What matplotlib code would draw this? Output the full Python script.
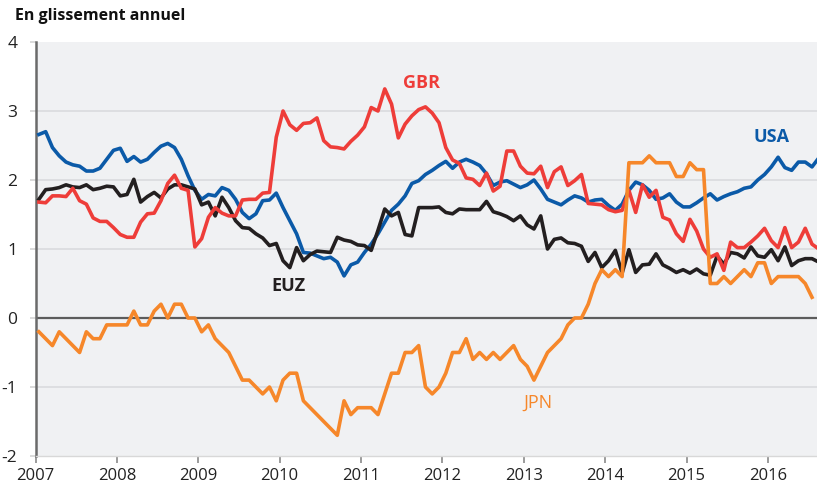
import matplotlib
matplotlib.use("Agg")
import matplotlib.pyplot as plt
import numpy as np

# Glissement annuel, mensuel de janv. 2007 à mi-2016
usa = [2.66, 2.70, 2.47, 2.35, 2.26, 2.22, 2.20, 2.13, 2.13, 2.17,
       2.30, 2.43, 2.46, 2.27, 2.34, 2.26, 2.30, 2.40, 2.49, 2.53,
       2.47, 2.30, 2.06, 1.85, 1.72, 1.79, 1.77, 1.89, 1.85, 1.72,
       1.53, 1.44, 1.51, 1.70, 1.71, 1.81, 1.60, 1.41, 1.22, 0.95,
       0.94, 0.90, 0.86, 0.88, 0.81, 0.61, 0.77, 0.81, 0.95, 1.07,
       1.22, 1.39, 1.56, 1.65, 1.77, 1.95, 1.99, 2.08, 2.14, 2.21,
       2.27, 2.17, 2.26, 2.30, 2.26, 2.21, 2.09, 1.92, 1.97, 1.99,
       1.94, 1.89, 1.93, 2.00, 1.87, 1.72, 1.68, 1.64, 1.71, 1.77,
       1.74, 1.68, 1.71, 1.72, 1.63, 1.56, 1.65, 1.85, 1.97, 1.93,
       1.85, 1.72, 1.74, 1.80, 1.68, 1.61, 1.61, 1.67, 1.74, 1.80,
       1.71, 1.76, 1.80, 1.83, 1.88, 1.90, 2.00, 2.08, 2.19, 2.33,
       2.18, 2.14, 2.26, 2.26, 2.19, 2.32]

euz = [1.72, 1.86, 1.87, 1.89, 1.93, 1.90, 1.89, 1.93, 1.86, 1.88,
       1.91, 1.90, 1.77, 1.79, 2.01, 1.68, 1.76, 1.82, 1.74, 1.87,
       1.93, 1.93, 1.90, 1.87, 1.64, 1.68, 1.48, 1.75, 1.60, 1.41,
       1.31, 1.30, 1.22, 1.16, 1.05, 1.08, 0.83, 0.73, 1.02, 0.83,
       0.92, 0.97, 0.96, 0.95, 1.17, 1.13, 1.11, 1.06, 1.05, 0.98,
       1.27, 1.58, 1.48, 1.53, 1.21, 1.19, 1.60, 1.60, 1.60, 1.61,
       1.53, 1.51, 1.58, 1.57, 1.57, 1.57, 1.69, 1.54, 1.51, 1.47,
       1.41, 1.48, 1.35, 1.29, 1.48, 1.00, 1.14, 1.16, 1.09, 1.08,
       1.04, 0.82, 0.95, 0.73, 0.83, 0.98, 0.65, 0.99, 0.66, 0.77,
       0.78, 0.93, 0.77, 0.72, 0.66, 0.70, 0.65, 0.71, 0.64, 0.62,
       0.90, 0.78, 0.95, 0.93, 0.87, 1.03, 0.90, 0.88, 0.99, 0.83,
       1.03, 0.76, 0.83, 0.86, 0.86, 0.81]

gbr = [1.68, 1.67, 1.77, 1.77, 1.76, 1.88, 1.70, 1.65, 1.45, 1.40,
       1.40, 1.31, 1.21, 1.17, 1.17, 1.39, 1.51, 1.52, 1.70, 1.95,
       2.07, 1.88, 1.85, 1.03, 1.15, 1.46, 1.60, 1.52, 1.48, 1.48,
       1.71, 1.72, 1.72, 1.81, 1.82, 2.62, 3.00, 2.80, 2.72, 2.82,
       2.83, 2.90, 2.57, 2.48, 2.47, 2.45, 2.56, 2.65, 2.77, 3.05,
       3.00, 3.32, 3.10, 2.61, 2.81, 2.93, 3.02, 3.06, 2.97, 2.83,
       2.47, 2.29, 2.24, 2.03, 2.01, 1.92, 2.10, 1.84, 1.91, 2.42,
       2.42, 2.20, 2.10, 2.09, 2.20, 1.89, 2.12, 2.19, 1.92, 1.99,
       2.08, 1.66, 1.65, 1.64, 1.57, 1.54, 1.56, 1.85, 1.53, 1.93,
       1.75, 1.85, 1.46, 1.42, 1.22, 1.11, 1.43, 1.26, 1.00, 0.88,
       0.93, 0.69, 1.10, 1.02, 1.02, 1.10, 1.19, 1.30, 1.12, 1.02,
       1.31, 1.02, 1.10, 1.30, 1.07, 1.00]

jpn = [-0.2, -0.3, -0.4, -0.2, -0.3, -0.4, -0.5, -0.2, -0.3, -0.3,
       -0.1, -0.1, -0.1, -0.1, 0.1, -0.1, -0.1, 0.1, 0.2, 0.0,
       0.2, 0.2, 0.0, 0.0, -0.2, -0.1, -0.3, -0.4, -0.5, -0.7,
       -0.9, -0.9, -1.0, -1.1, -1.0, -1.2, -0.9, -0.8, -0.8, -1.2,
       -1.3, -1.4, -1.5, -1.6, -1.7, -1.2, -1.4, -1.3, -1.3, -1.3,
       -1.4, -1.1, -0.8, -0.8, -0.5, -0.5, -0.4, -1.0, -1.1, -1.0,
       -0.8, -0.5, -0.5, -0.3, -0.6, -0.5, -0.6, -0.5, -0.6, -0.5,
       -0.4, -0.6, -0.7, -0.9, -0.7, -0.5, -0.4, -0.3, -0.1, 0.0,
       0.0, 0.2, 0.5, 0.7, 0.6, 0.7, 0.6, 2.25, 2.25, 2.25,
       2.35, 2.25, 2.25, 2.25, 2.05, 2.05, 2.25, 2.15, 2.15, 0.5,
       0.5, 0.6, 0.5, 0.6, 0.7, 0.6, 0.8, 0.8, 0.5, 0.6,
       0.6, 0.6, 0.6, 0.5, 0.3]

years = list(range(2007, 2017))
yticks = [-2, -1, 0, 1, 2, 3, 4]

# position en milieu de mois
def mois(serie):
    return 2007 + (np.arange(len(serie)) + 0.5) / 12

plt.rcParams['font.family'] = ['Open Sans', 'DejaVu Sans']
plt.rcParams['axes.unicode_minus'] = False

fig = plt.figure(figsize=(8.17, 4.87), dpi=100)
ax = fig.add_axes([35.5 / 817, 31 / 487, (817 - 35.5) / 817, 414 / 487])
ax.set_facecolor('#f0f1f3')

for y in [-1, 1, 2, 3]:
    ax.axhline(y, color='#dcdde0', lw=1.3, zorder=1)
ax.axhline(0, color='#5c5c5c', lw=1.6, zorder=2)

lw = 2.6
ax.plot(mois(usa), usa, color='#0b5aa8', lw=lw, zorder=3)
ax.plot(mois(euz), euz, color='#231f20', lw=lw, zorder=4)
ax.plot(mois(gbr), gbr, color='#ee3d39', lw=lw, zorder=5)
ax.plot(mois(jpn), jpn, color='#f6872a', lw=lw, zorder=6)

ax.text(2011.74, 3.41, 'GBR', color='#ee3d39', fontsize=13, fontweight='bold', ha='center', va='center')
ax.text(2016.05, 2.63, 'USA', color='#0b5aa8', fontsize=13, fontweight='bold', ha='center', va='center')
ax.text(2010.11, 0.47, 'EUZ', color='#231f20', fontsize=13, fontweight='bold', ha='center', va='center')
ax.text(2013.17, -1.23, 'JPN', color='#f6872a', fontsize=13, ha='center', va='center')

ax.set_xlim(2007, 2016.603)
ax.set_ylim(-2, 4)
ax.set_xticks(years)
ax.set_xticklabels([str(y) for y in years])
ax.set_yticks(yticks)
ax.set_yticklabels([str(y) for y in yticks])

for s in ['top', 'right']:
    ax.spines[s].set_visible(False)
ax.spines['left'].set_color('#6a6a6a')
ax.spines['left'].set_linewidth(1.8)
ax.spines['bottom'].set_color('#d8d8d8')
ax.spines['bottom'].set_linewidth(1.0)

ax.tick_params(axis='y', length=4, width=1.2, color='#d4d4d4', pad=9,
               labelsize=12.5, labelcolor='#222222')
ax.tick_params(axis='x', length=5, width=1.2, color='#8a8a8a', pad=4,
               labelsize=12, labelcolor='#222222')

fig.text(15 / 817, 1 - 16 / 487, 'En glissement annuel', fontsize=11.5,
         fontweight='bold', color='#111111', ha='left', va='center')

fig.savefig('out.png', dpi=100)
